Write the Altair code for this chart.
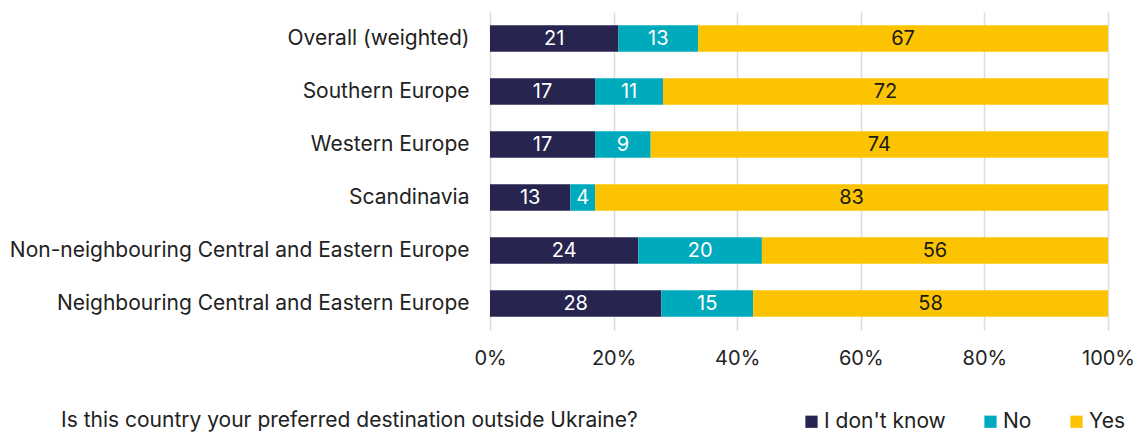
import altair as alt
import pandas as pd

categories = [
    "Overall (weighted)",
    "Southern Europe",
    "Western Europe",
    "Scandinavia",
    "Non-neighbouring Central and Eastern Europe",
    "Neighbouring Central and Eastern Europe",
]
dont_know = [21, 17, 17, 13, 24, 28]
no = [13, 11, 9, 4, 20, 15]
yes = [67, 72, 74, 83, 56, 58]

series = ["I don't know", "No", "Yes"]
colors = ["#27244f", "#00aabd", "#fcc400"]

rows = []
for i, c in enumerate(categories):
    for k, (s, vals) in enumerate(zip(series, [dont_know, no, yes])):
        rows.append({"region": c, "resp": s, "order": k, "value": vals[i]})
df = pd.DataFrame(rows)

FONT = "Inter"
FS = 21
FSB = 20

base = alt.Chart(df).transform_joinaggregate(
    total="sum(value)", groupby=["region"]
).transform_window(
    cum="sum(value)", groupby=["region"], sort=[alt.SortField("order")]
).transform_calculate(
    start="(datum.cum - datum.value) / datum.total",
    end="datum.cum / datum.total",
    mid="(datum.cum - datum.value / 2) / datum.total",
)

y = alt.Y(
    "region:N",
    sort=categories,
    title=None,
    scale=alt.Scale(paddingInner=0.5, paddingOuter=0.25),
    axis=alt.Axis(
        domain=False, ticks=False, labelFontSize=FS, labelFont=FONT,
        labelColor="#222222", labelPadding=21, labelLimit=600,
    ),
)

bars = base.mark_bar().encode(
    x=alt.X(
        "start:Q",
        scale=alt.Scale(domain=[0, 1], nice=False),
        title=None,
        axis=alt.Axis(
            format="%", values=[0, 0.2, 0.4, 0.6, 0.8, 1.0], domain=False,
            ticks=False, grid=True, gridColor="#dcdcdc", gridWidth=1.5,
            labelFontSize=FSB, labelFont=FONT, labelColor="#222222",
            labelPadding=18, labelFlush=False,
        ),
    ),
    x2="end:Q",
    y=y,
    color=alt.Color(
        "resp:N",
        scale=alt.Scale(domain=series, range=colors),
        sort=series,
        legend=alt.Legend(
            title="Is this country your preferred destination outside Ukraine?",
            orient="none", direction="horizontal", legendX=-429, legendY=399,
            titleOrient="left", titleFontSize=FS, titleFont=FONT,
            titleFontWeight="normal", titleColor="#222222", titlePadding=163,
            titleLimit=900,
            labelFontSize=FS, labelFont=FONT, labelColor="#222222",
            symbolType="square", symbolSize=150, symbolStrokeWidth=0,
            columnPadding=34, labelOffset=2,
        ),
    ),
    order=alt.Order("order:Q"),
)

labels = base.mark_text(fontSize=FSB, font=FONT).encode(
    x=alt.X("mid:Q"),
    y=alt.Y("region:N", sort=categories),
    text=alt.Text("value:Q"),
    color=alt.condition(
        alt.datum.resp == "Yes", alt.value("#1a1a1a"), alt.value("white")
    ),
)

chart = (
    alt.layer(bars, labels)
    .properties(
        width=618, height=318,
        autosize=alt.AutoSizeParams(type="none"),
        padding={"left": 482, "top": 4, "right": 27, "bottom": 103},
    )
    .configure_view(stroke=None)
)

chart.save("out.html", embed_options={"renderer": "svg", "actions": False})
